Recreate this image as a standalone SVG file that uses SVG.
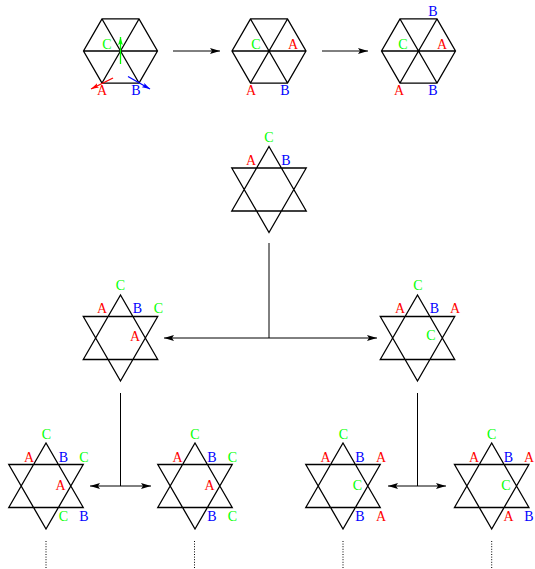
<svg xmlns="http://www.w3.org/2000/svg" xmlns:xlink="http://www.w3.org/1999/xlink" width="535" height="569" viewBox="0 0 535 569">
<style>
.shape{fill:none;stroke:#000;stroke-width:1.3;stroke-linejoin:miter}
.conn{fill:none;stroke:#000;stroke-width:1}
.dot{fill:none;stroke:#000;stroke-width:1;stroke-dasharray:1 1.6}
text{font-family:"Liberation Serif","Times New Roman",serif;font-size:14px;text-anchor:middle}
.r{fill:#ff0000}.g{fill:#00ff00}.b{fill:#0000ff}
</style>
<defs>
<marker id="ah" viewBox="0 0 10 6" refX="10" refY="3" markerWidth="10" markerHeight="6" markerUnits="userSpaceOnUse" orient="auto"><path d="M0,0 L10,3 L0,6 L2,3 Z" fill="#000"/></marker>
<marker id="ahs" viewBox="0 0 10 6" refX="10" refY="3" markerWidth="10" markerHeight="6" markerUnits="userSpaceOnUse" orient="auto-start-reverse"><path d="M0,0 L10,3 L0,6 L2,3 Z" fill="#000"/></marker>
<marker id="ahr" viewBox="0 0 10 6" refX="10" refY="3" markerWidth="8" markerHeight="5" markerUnits="userSpaceOnUse" orient="auto"><path d="M0,0 L10,3 L0,6 L2,3 Z" fill="#ff0000"/></marker>
<marker id="ahg" viewBox="0 0 10 6" refX="10" refY="3" markerWidth="8" markerHeight="5" markerUnits="userSpaceOnUse" orient="auto"><path d="M0,0 L10,3 L0,6 L2,3 Z" fill="#00ff00"/></marker>
<marker id="ahb" viewBox="0 0 10 6" refX="10" refY="3" markerWidth="8" markerHeight="5" markerUnits="userSpaceOnUse" orient="auto"><path d="M0,0 L10,3 L0,6 L2,3 Z" fill="#0000ff"/></marker>
<path id="hex" d="M37,0 L18.5,32.04 L-18.5,32.04 L-37,0 L-18.5,-32.04 L18.5,-32.04 Z M-37,0 L37,0 M-18.5,-32.04 L18.5,32.04 M18.5,-32.04 L-18.5,32.04"/>
<path id="star" d="M0,-43 L37.24,21.5 L-37.24,21.5 Z M0,43 L37.24,-21.5 L-37.24,-21.5 Z"/>
</defs>

<g id="hex1">
<use xlink:href="#hex" href="#hex" class="shape" x="120.5" y="51"/>
<line x1="120.5" y1="64" x2="120.5" y2="37" stroke="#00ff00" stroke-width="1.3" marker-end="url(#ahg)"/>
<line x1="113" y1="78" x2="91" y2="89" stroke="#ff0000" stroke-width="1.3" marker-end="url(#ahr)"/>
<line x1="128" y1="76.5" x2="150" y2="89" stroke="#0000ff" stroke-width="1.3" marker-end="url(#ahb)"/>
<text x="107" y="48.5" class="g">C</text>
<text x="102" y="95" class="r">A</text>
<text x="136" y="95" class="b">B</text>
</g>
<g id="hex2">
<use xlink:href="#hex" href="#hex" class="shape" x="269" y="51"/>
<text x="256" y="48.5" class="g">C</text>
<text x="293" y="48.5" class="r">A</text>
<text x="251" y="95" class="r">A</text>
<text x="285" y="95" class="b">B</text>
</g>
<g id="hex3">
<use xlink:href="#hex" href="#hex" class="shape" x="418.5" y="51"/>
<text x="433" y="16" class="b">B</text>
<text x="403" y="48.5" class="g">C</text>
<text x="442" y="48.5" class="r">A</text>
<text x="399" y="95" class="r">A</text>
<text x="433" y="95" class="b">B</text>
</g>

<g id="star0">
<use xlink:href="#star" href="#star" class="shape" x="269" y="189.5"/>
<text x="269" y="141.5" class="g">C</text>
<text x="251" y="164.5" class="r">A</text>
<text x="286" y="164.5" class="b">B</text>
</g>

<g id="starL">
<use xlink:href="#star" href="#star" class="shape" x="120.5" y="338"/>
<text x="120.5" y="290" class="g">C</text>
<text x="102" y="312.5" class="r">A</text>
<text x="137.5" y="312.5" class="b">B</text>
<text x="158.5" y="312.5" class="g">C</text>
<text x="135" y="341" class="r">A</text>
</g>
<g id="starR">
<use xlink:href="#star" href="#star" class="shape" x="417.5" y="338"/>
<text x="418" y="290" class="g">C</text>
<text x="400" y="312.5" class="r">A</text>
<text x="434.5" y="312.5" class="b">B</text>
<text x="455" y="312.5" class="r">A</text>
<text x="431" y="340" class="g">C</text>
</g>

<g id="starLL">
<use xlink:href="#star" href="#star" class="shape" x="46" y="486"/>
<text x="46.5" y="438.5" class="g">C</text>
<text x="29" y="461.5" class="r">A</text>
<text x="63.5" y="461.5" class="b">B</text>
<text x="84" y="461.5" class="g">C</text>
<text x="60.5" y="489.5" class="r">A</text>
<text x="63.5" y="521" class="g">C</text>
<text x="84" y="521" class="b">B</text>
</g>
<g id="starLR">
<use xlink:href="#star" href="#star" class="shape" x="195" y="486"/>
<text x="195" y="438.5" class="g">C</text>
<text x="177.5" y="461.5" class="r">A</text>
<text x="212" y="461.5" class="b">B</text>
<text x="232.5" y="461.5" class="g">C</text>
<text x="209.5" y="489.5" class="r">A</text>
<text x="212" y="521" class="b">B</text>
<text x="232.5" y="521" class="g">C</text>
</g>
<g id="starRL">
<use xlink:href="#star" href="#star" class="shape" x="343" y="486"/>
<text x="343.5" y="438.5" class="g">C</text>
<text x="325.5" y="461.5" class="r">A</text>
<text x="360" y="461.5" class="b">B</text>
<text x="381" y="461.5" class="r">A</text>
<text x="357.5" y="489.5" class="g">C</text>
<text x="360" y="521" class="b">B</text>
<text x="381" y="521" class="r">A</text>
</g>
<g id="starRR">
<use xlink:href="#star" href="#star" class="shape" x="491.7" y="486"/>
<text x="491.7" y="438.5" class="g">C</text>
<text x="474" y="461.5" class="r">A</text>
<text x="508.5" y="461.5" class="b">B</text>
<text x="529" y="461.5" class="r">A</text>
<text x="506" y="489.5" class="g">C</text>
<text x="508.5" y="521" class="r">A</text>
<text x="529" y="521" class="b">B</text>
</g>

<g id="connectors">
<line x1="173" y1="51" x2="220" y2="51" class="conn" marker-end="url(#ah)"/>
<line x1="322" y1="51" x2="368" y2="51" class="conn" marker-end="url(#ah)"/>
<line x1="269" y1="243" x2="269" y2="338" class="conn"/>
<line x1="164" y1="338" x2="377" y2="338" class="conn" marker-start="url(#ahs)" marker-end="url(#ahs)"/>
<line x1="120.5" y1="393" x2="120.5" y2="486" class="conn"/>
<line x1="90" y1="486" x2="151" y2="486" class="conn" marker-start="url(#ahs)" marker-end="url(#ahs)"/>
<line x1="417.5" y1="393" x2="417.5" y2="486" class="conn"/>
<line x1="388" y1="486" x2="446" y2="486" class="conn" marker-start="url(#ahs)" marker-end="url(#ahs)"/>
<line x1="46" y1="541" x2="46" y2="569" class="dot"/>
<line x1="194.5" y1="541" x2="194.5" y2="569" class="dot"/>
<line x1="343" y1="541" x2="343" y2="569" class="dot"/>
<line x1="491.7" y1="541" x2="491.7" y2="569" class="dot"/>
</g>
</svg>
